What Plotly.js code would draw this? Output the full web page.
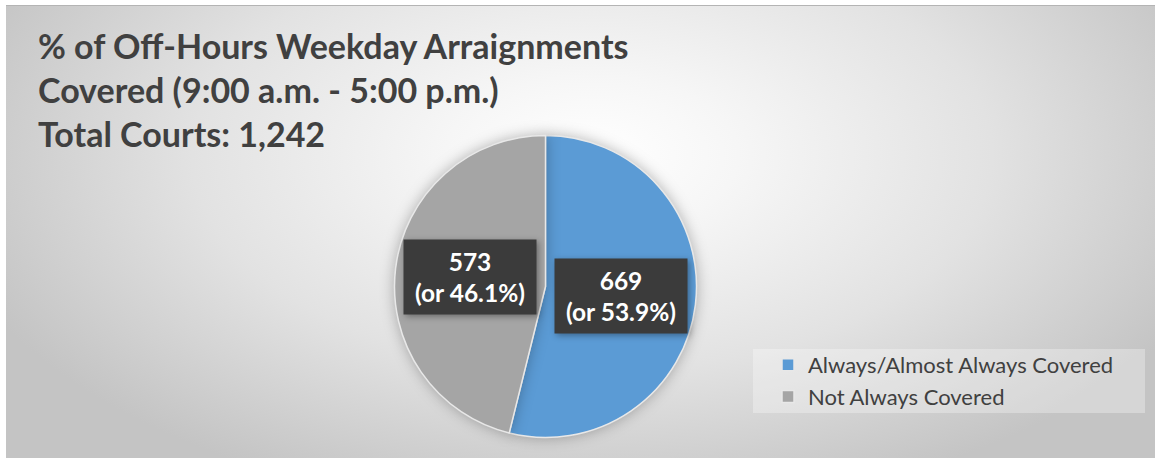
<!DOCTYPE html>
<html>
<head>
<meta charset="utf-8">
<script src="https://cdn.plot.ly/plotly-3.0.1.min.js"></script>
<style>
    body { margin: 0; background: #ffffff; }
    #wrap { position: relative; width: 1157px; height: 458px; }
    /* excel style radial fill behind the chart */
    #bg {
        position: absolute; left: 6px; top: 5px; width: 1149px; height: 453px;
        border-top: 1px solid #b4b4b4;
        box-sizing: border-box;
        background: radial-gradient(ellipse 58% 80% at 51% 33%, #ffffff 0%, #f6f6f6 22%, #e2e2e2 60%, #c4c4c4 100%);
    }
    #chart { position: absolute; left: 0; top: 0; }
    #chart .slice path.surface { filter: drop-shadow(0px 0px 7px rgba(0, 0, 0, 0.28)); }
    #chart .annotation-text-g rect { filter: drop-shadow(2px 2px 3px rgba(0, 0, 0, 0.35)); }
</style>
</head>
<body>
<div id="wrap">
    <div id="bg"></div>
    <div id="chart"></div>
</div>
<script>
// data
let categories = ["Always/Almost Always Covered", "Not Always Covered"];
let courts = [669, 573];
let sliceColors = ["#5b9bd5", "#a5a5a5"];
let titleLines = [
    "% of Off-Hours Weekday Arraignments",
    "Covered (9:00 a.m. - 5:00 p.m.)",
    "Total Courts: 1,242"
];

// page size and where the pie sits (pixels)
const W = 1157, H = 458;
const pieCx = 545.5, pieCy = 286.5, pieR = 151;

let total = courts.reduce((a, b) => a + b, 0);

// label text, like "669 (or 53.9%)"
let labelText = courts.map(c => `${c}<br>(or ${(c / total * 100).toFixed(1)}%)`);

// put each label on the middle angle of its slice (clockwise from 12 o'clock)
let running = 0;
let annotations = courts.map((c, i) => {
    let mid = (running + c / 2) / total * 2 * Math.PI;
    running += c;
    let px = pieCx + 0.507 * pieR * Math.sin(mid);
    let py = pieCy - 0.507 * pieR * Math.cos(mid);
    return {
        xref: "paper", yref: "paper",
        x: px / W, y: 1 - py / H,
        xanchor: "center", yanchor: "middle",
        text: "<b>" + labelText[i] + "</b>",
        showarrow: false,
        width: 120,
        height: 62,
        bgcolor: "#3b3b3b",
        borderpad: 6,
        font: {family: "Lato, 'Open Sans', sans-serif", size: 24.5, color: "#ffffff"}
    };
});

let trace = {
    type: "pie",
    labels: categories,
    values: courts,
    sort: false,
    direction: "clockwise",
    rotation: 0,
    textinfo: "none",
    hoverinfo: "none",
    marker: {colors: sliceColors, line: {color: "#e8e8e8", width: 1.5}},
    domain: {
        x: [(pieCx - pieR) / W, (pieCx + pieR) / W],
        y: [1 - (pieCy + pieR) / H, 1 - (pieCy - pieR) / H]
    }
};

let layout = {
    width: W,
    height: H,
    margin: {l: 0, r: 0, t: 0, b: 0},
    paper_bgcolor: "rgba(0,0,0,0)",
    plot_bgcolor: "rgba(0,0,0,0)",
    title: {
        text: "<b>" + titleLines.join("<br>") + "</b>",
        x: 38 / W, xanchor: "left",
        y: 1 - 59 / H, yanchor: "top",
        font: {family: "Lato, 'Open Sans', sans-serif", size: 34, color: "#404040"}
    },
    showlegend: true,
    legend: {
        x: 768 / W, xanchor: "left",
        y: 1 - 344 / H, yanchor: "top",
        bgcolor: "rgba(0,0,0,0)",
        font: {family: "Lato, 'Open Sans', sans-serif", size: 22, color: "#404040"}
    },
    // pale box behind the legend
    shapes: [{
        type: "rect", xref: "paper", yref: "paper", layer: "below",
        x0: 753 / W, x1: 1145 / W, y0: 1 - 413 / H, y1: 1 - 349 / H,
        fillcolor: "rgba(255,255,255,0.3)", line: {width: 0}
    }],
    annotations: annotations
};

Plotly.newPlot("chart", [trace], layout, {displayModeBar: false, staticPlot: true});
</script>
</body>
</html>
